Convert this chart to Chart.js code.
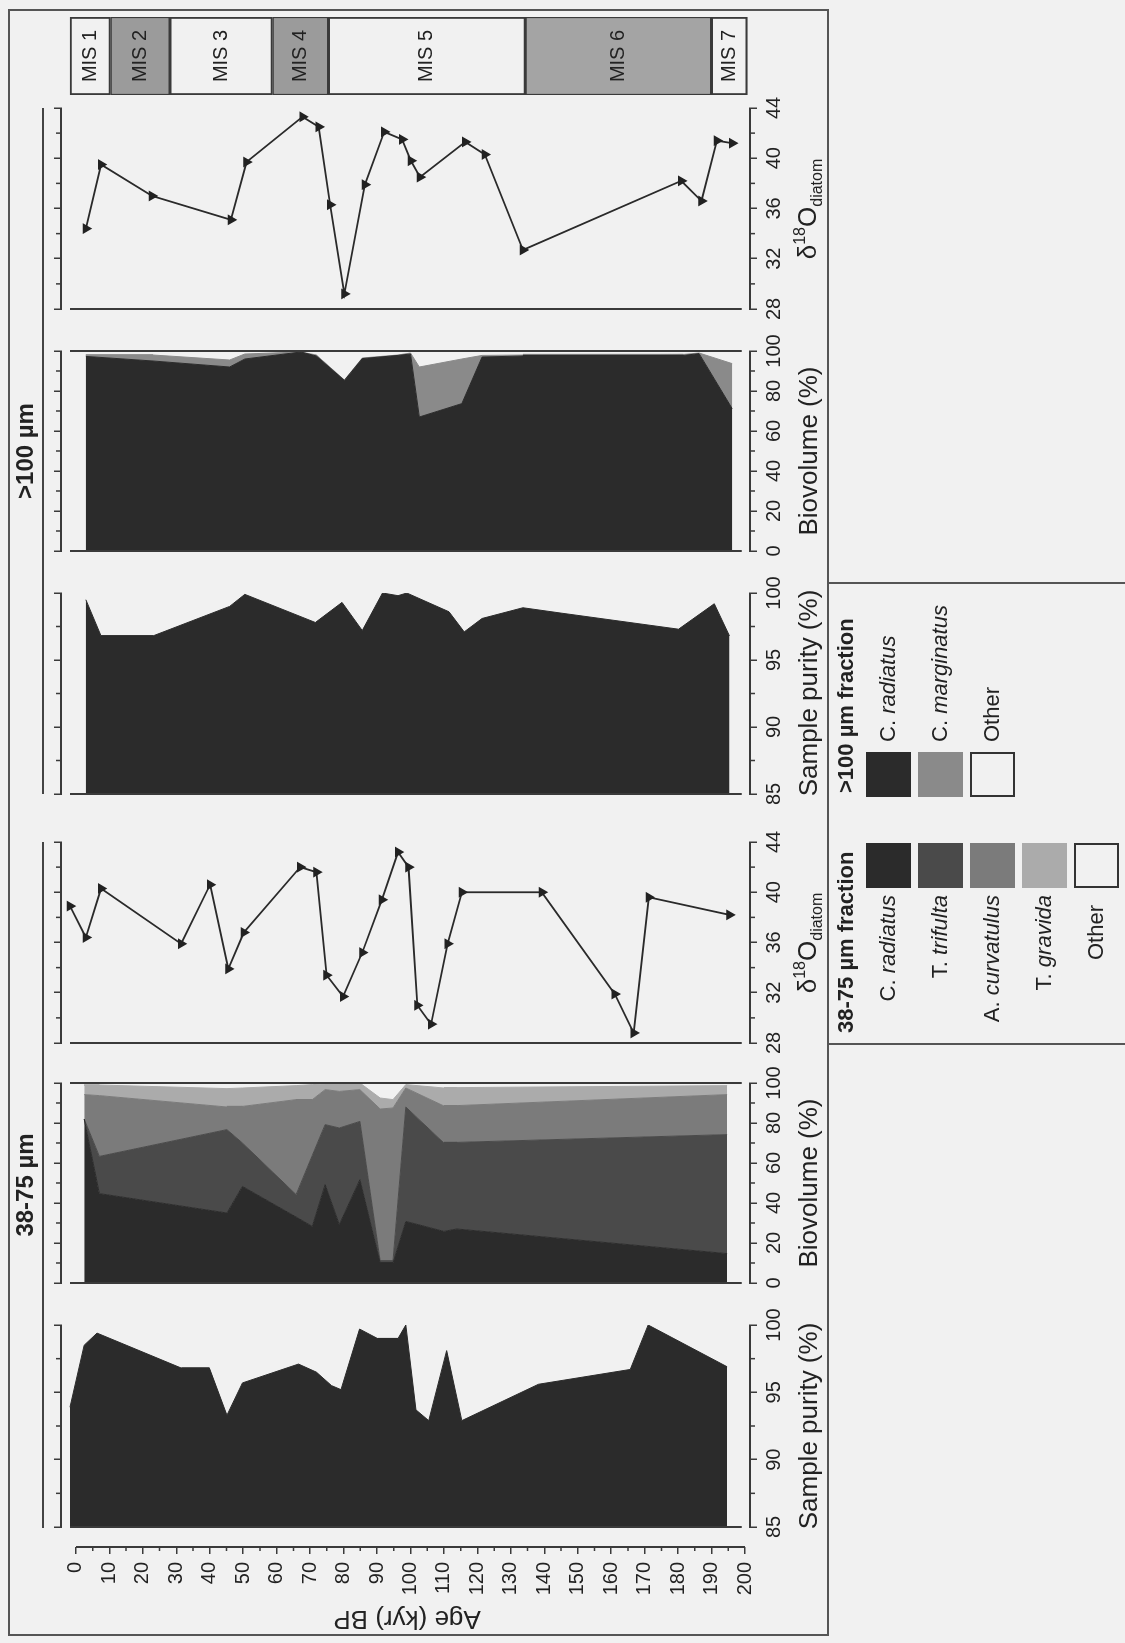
<!DOCTYPE html>
<html><head><meta charset="utf-8">
<script src="https://cdn.jsdelivr.net/npm/chart.js@4.4.0/dist/chart.umd.min.js"></script>
<style>
html,body{margin:0;padding:0;background:#f1f1f1;}
body{width:1125px;height:1643px;overflow:hidden;position:relative;font-family:"Liberation Sans",Arial,sans-serif;color:#222;}
#fig{position:absolute;left:0;top:0;width:1643px;height:1125px;transform-origin:0 0;transform:translate(0px,1643px) rotate(-90deg);}
#fig canvas{position:absolute;}
.t{position:absolute;white-space:nowrap;line-height:1;}
.c{transform:translate(-50%,-50%);}
.box{position:absolute;box-sizing:border-box;}
.sw{position:absolute;width:45px;height:45px;box-sizing:border-box;}
.lab{position:absolute;white-space:nowrap;font-size:22px;line-height:1;transform:translateY(-50%);}
</style></head>
<body><div id="fig"></div>
<script>
// ---------------- data ----------------
const ageTickLabels = [0,10,20,30,40,50,60,70,80,90,100,110,120,130,140,150,160,170,180,190,200];

// 38-75 um fraction: sample purity (%)
const purity38Age = [0, 4.2, 8.0, 33.0, 41.3, 46.5, 51.1, 67.7, 73.0, 77.5, 80.3, 85.8, 91.1, 97.2, 99.5, 102.5, 106.3, 111.6, 116.1, 138.8, 166.0, 171.3, 194.7];
const purity38    = [93.9, 98.5, 99.4, 96.8, 96.8, 93.3, 95.7, 97.1, 96.5, 95.5, 95.2, 99.7, 99.0, 99.0, 100, 93.7, 92.9, 98.1, 92.9, 95.6, 96.7, 100, 96.9];

// 38-75 um fraction: biovolume (%) per taxon
const bio38Age        = [4.2, 8.7, 46.5, 51.1, 67.0, 71.8, 75.6, 79.8, 85.9, 91.9, 95.7, 99.5, 110.8, 114.6, 194.7];
const bio38Radiatus   = [82, 44.7, 35, 48.3, 33, 28.3, 49.2, 29.2, 51.7, 10, 10, 30.8, 25.8, 27, 14.7];
const bio38Trifulta   = [0, 18.6, 41.7, 21.7, 11.2, 35.5, 30, 48.3, 29.1, 1, 1, 57.2, 44.2, 43.3, 59.5];
const bio38Curvatulus = [12.2, 30.4, 11.3, 18.3, 47.5, 27.9, 17.5, 18.3, 15.9, 76, 76.5, 9.5, 18.5, 18.4, 20];
const bio38Gravida    = [4.8, 5.3, 9.2, 9.2, 7, 7.5, 2.8, 3.7, 3.3, 5.5, 4.2, 1.7, 9, 9, 4.5];

// 38-75 um fraction: d18O diatom
const d18O38Age = [0, 4.7, 9.2, 32.9, 41.5, 46.9, 51.5, 68.2, 73.0, 76.0, 80.9, 86.6, 92.4, 97.2, 100.3, 102.9, 107.0, 111.9, 116.1, 139.8, 161.4, 167.0, 171.5, 195.4];
const d18O38    = [38.9, 36.4, 40.3, 35.9, 40.6, 33.9, 36.8, 42.0, 41.6, 33.4, 31.7, 35.2, 39.4, 43.2, 42.0, 31.0, 29.5, 35.9, 40.0, 40.0, 31.9, 28.8, 39.6, 38.2];

// >100 um fraction: sample purity (%)
const purity100Age = [4.7, 9.2, 24.6, 47.3, 51.8, 72.7, 80.6, 86.6, 92.6, 97.2, 99.8, 112.3, 116.8, 122.1, 134.2, 145.5, 180.3, 190.9, 195.4];
const purity100    = [99.5, 96.8, 96.8, 99.0, 99.9, 97.8, 99.3, 97.2, 100, 99.8, 100, 98.6, 97.1, 98.1, 98.9, 98.5, 97.3, 99.2, 96.8];

// >100 um fraction: biovolume (%) per taxon
const bio100Age        = [4.7, 24.6, 47.3, 51.8, 68.4, 73.0, 81.3, 86.6, 97.2, 100.9, 103.5, 116.1, 122.1, 134.2, 181.8, 186.4, 196.2];
const bio100Radiatus   = [97.3, 95, 92, 96, 99.5, 97.5, 85.3, 96.2, 97.8, 98.5, 67, 73.7, 97, 97.5, 97.8, 98.7, 71.2];
const bio100Marginatus = [0.7, 3, 3.5, 2.5, 0, 0.5, 0.2, 0.3, 0.2, 0.5, 25, 22.3, 0.8, 0.5, 0.5, 0.3, 22.5];

// >100 um fraction: d18O diatom
const d18O100Age = [4.7, 9.2, 24.3, 47.7, 52.3, 68.9, 73.7, 77.1, 81.3, 87.4, 93.1, 98.4, 101.0, 103.7, 117.1, 122.9, 134.2, 181.1, 187.1, 191.7, 196.2];
const d18O100    = [34.4, 39.5, 37.0, 35.1, 39.7, 43.3, 42.5, 36.3, 29.2, 37.9, 42.1, 41.5, 39.8, 38.5, 41.3, 40.3, 32.7, 38.2, 36.6, 41.4, 41.2];

// Marine isotope stages (kyr BP)
const misLabels = ['MIS 1','MIS 2','MIS 3','MIS 4','MIS 5','MIS 6','MIS 7'];
const misStart  = [0, 12, 29.5, 60, 76.5, 135, 190];
const misEnd    = [12, 29.5, 60, 76.5, 135, 190, 200.7];

// ---------------- layout / style ----------------
Chart.defaults.font.family = '"Liberation Sans", Arial, sans-serif';
Chart.defaults.color = '#222';
const AGE_MIN = -2.6667, AGE_MAX = 201.48;
const AREA_TOP = 61, AREA_BOTTOM = 750, TOP_H = 14, BOT_H = 50, PADX = 40;
const AXC = '#3a3a3a';
const C_RAD = '#2b2b2b', C_TRI = '#4a4a4a', C_CUR = '#7b7b7b', C_GRA = '#ababab', C_MAR = '#8a8a8a';
const fig = document.getElementById('fig');

function makeCanvas(left, top, w, h) {
  const c = document.createElement('canvas');
  c.width = w; c.height = h;
  c.style.left = left + 'px'; c.style.top = top + 'px';
  c.style.width = w + 'px'; c.style.height = h + 'px';
  fig.appendChild(c);
  return c.getContext('2d');
}
function pts(ages, vals) { return ages.map((a, i) => ({x: vals[i], y: a})); }
function cumulative(arrs) {
  let acc = arrs[0].map(() => 0);
  return arrs.map(a => { acc = acc.map((v, i) => v + a[i]); return acc.slice(); });
}

// minor ticks halfway between major ticks
const minorTicks = {
  id: 'minorTicks',
  afterDraw(chart, args, opts) {
    const ctx = chart.ctx;
    ctx.save();
    ctx.strokeStyle = AXC; ctx.lineWidth = 1.5;
    ctx.beginPath();
    Object.values(chart.scales).forEach(s => {
      if (!s.options.display || !s.ticks || s.ticks.length < 2) return;
      const len = opts.len || 4;
      for (let i = 0; i < s.ticks.length - 1; i++) {
        const p = s.getPixelForValue((s.ticks[i].value + s.ticks[i + 1].value) / 2);
        if (s.isHorizontal()) {
          const top = s.options.position === 'top';
          const y0 = top ? s.bottom : s.top;
          ctx.moveTo(p, y0); ctx.lineTo(p, y0 + (top ? -len : len));
        } else {
          ctx.moveTo(s.right, p); ctx.lineTo(s.right - len, p);
        }
      }
    });
    ctx.stroke(); ctx.restore();
  }
};
// straight reference lines (axis baselines) drawn in data units
const refLines = {
  id: 'refLines',
  afterDatasetsDraw(chart, args, opts) {
    const ctx = chart.ctx;
    (opts.lines || []).forEach(l => {
      ctx.save(); ctx.strokeStyle = AXC; ctx.lineWidth = l.w || 2;
      ctx.beginPath();
      const x = l.atPx !== undefined ? l.atPx(chart) : chart.scales.x.getPixelForValue(l.at);
      ctx.moveTo(x, chart.scales.y.getPixelForValue(l.from));
      ctx.lineTo(x, chart.scales.y.getPixelForValue(l.to));
      ctx.stroke(); ctx.restore();
    });
  }
};

function valueAxis(pos, vmin, vmax, step, showLabels) {
  return {
    type: 'linear', position: pos, axis: 'x', min: vmin, max: vmax,
    ticks: {stepSize: step, display: showLabels, font: {size: 20}, color: '#222', padding: 5, maxRotation: 0, autoSkip: false, includeBounds: false},
    grid: {drawOnChartArea: false, drawTicks: true, tickLength: 7, color: AXC, lineWidth: 1.5},
    border: {display: true, color: AXC, width: 2},
    afterFit(s) { s.height = pos === 'top' ? TOP_H : BOT_H; s.paddingLeft = 0; s.paddingRight = 0; }
  };
}

function panel(x0L, x0R, vmin, vmax, step, datasets, lines) {
  const ctx = makeCanvas(x0L - PADX, AREA_TOP - TOP_H, x0R - x0L + 2 * PADX, TOP_H + (AREA_BOTTOM - AREA_TOP) + BOT_H);
  return new Chart(ctx, {
    type: 'line',
    data: {datasets},
    options: {
      indexAxis: 'y', responsive: false, animation: false, devicePixelRatio: 1,
      layout: {padding: {left: PADX, right: PADX, top: 0, bottom: 0}},
      elements: {line: {tension: 0}},
      plugins: {legend: {display: false}, tooltip: {enabled: false}, minorTicks: {len: 5}, refLines: {lines}},
      scales: {
        y: {type: 'linear', reverse: true, min: AGE_MIN, max: AGE_MAX, display: false},
        x: valueAxis('bottom', vmin, vmax, step, true),
        x2: valueAxis('top', vmin, vmax, step, false)
      }
    },
    plugins: [minorTicks, refLines]
  });
}
function area(ages, vals, color, fill) {
  return {data: pts(ages, vals), backgroundColor: color, borderColor: color, borderWidth: 1, pointRadius: 0, fill};
}
function isoLine(ages, vals) {
  return {data: pts(ages, vals), borderColor: '#2a2a2a', borderWidth: 1.8, fill: false,
    pointStyle: 'triangle', rotation: 180, pointRadius: 4.5, pointBackgroundColor: '#222', pointBorderColor: '#222'};
}
const base = v => ({at: v, from: 0, to: 199, w: 2});

// ---- age axis ----
new Chart(makeCanvas(0, AREA_TOP - TOP_H, 110, TOP_H + (AREA_BOTTOM - AREA_TOP) + BOT_H), {
  type: 'line', data: {datasets: []},
  options: {
    responsive: false, animation: false, devicePixelRatio: 1,
    layout: {padding: {top: TOP_H, bottom: BOT_H, left: 0, right: 0}},
    plugins: {legend: {display: false}, tooltip: {enabled: false}, minorTicks: {len: 4},
      refLines: {lines: [{atPx: c => c.scales.y.right, from: ageTickLabels[0], to: ageTickLabels[ageTickLabels.length - 1], w: 2}]}},
    scales: {
      x: {type: 'linear', display: false},
      y: {type: 'linear', reverse: true, min: AGE_MIN, max: AGE_MAX, position: 'left',
        afterBuildTicks(s) { s.ticks = ageTickLabels.map(v => ({value: v})); },
        ticks: {font: {size: 20}, color: '#222', padding: 8, autoSkip: false},
        grid: {drawOnChartArea: false, tickLength: 7, color: AXC, lineWidth: 1.5},
        border: {display: false},
        afterFit(s) { s.width = 96; }
      }
    }
  },
  plugins: [minorTicks, refLines]
});

// ---- 38-75 um panels ----
panel(116, 318, 85, 100, 5, [area(purity38Age, purity38, C_RAD, {value: 85})], [base(85)]);
const cum38 = cumulative([bio38Radiatus, bio38Trifulta, bio38Curvatulus, bio38Gravida]);
panel(360, 560, 0, 100, 20, [
  area(bio38Age, cum38[0], C_RAD, {value: 0}),
  area(bio38Age, cum38[1], C_TRI, '-1'),
  area(bio38Age, cum38[2], C_CUR, '-1'),
  area(bio38Age, cum38[3], C_GRA, '-1')
], [base(0), base(100)]);
panel(600, 801, 28, 44, 4, [isoLine(d18O38Age, d18O38)], [base(28)]);

// ---- >100 um panels ----
panel(849, 1050, 85, 100, 5, [area(purity100Age, purity100, C_RAD, {value: 85})], [base(85)]);
const cum100 = cumulative([bio100Radiatus, bio100Marginatus]);
panel(1092, 1292, 0, 100, 20, [
  area(bio100Age, cum100[0], C_RAD, {value: 0}),
  area(bio100Age, cum100[1], C_MAR, '-1')
], [base(0), base(100)]);
panel(1334, 1535, 28, 44, 4, [isoLine(d18O100Age, d18O100)], [base(28)]);

// ---- MIS column ----
const misLabelPlugin = {
  id: 'misText',
  afterDatasetsDraw(chart) {
    const ctx = chart.ctx;
    ctx.save(); ctx.fillStyle = '#222'; ctx.font = '20px "Liberation Sans", Arial, sans-serif';
    ctx.textAlign = 'center'; ctx.textBaseline = 'middle';
    chart.data.datasets.forEach((ds, i) => {
      const el = chart.getDatasetMeta(i).data[0];
      ctx.fillText(ds.label, el.x, (el.y + el.base) / 2);
    });
    ctx.restore();
  }
};
const misColors = ['rgba(0,0,0,0)', '#9b9b9b', 'rgba(0,0,0,0)', '#9b9b9b', 'rgba(0,0,0,0)', '#a4a4a4', 'rgba(0,0,0,0)'];
new Chart(makeCanvas(1538, AREA_TOP - TOP_H, 98, TOP_H + (AREA_BOTTOM - AREA_TOP) + BOT_H), {
  type: 'bar',
  data: {labels: ['MIS'], datasets: misLabels.map((l, i) => ({
    label: l, data: [[misStart[i], misEnd[i]]], backgroundColor: misColors[i], borderColor: AXC,
    borderWidth: 1.5, borderSkipped: false, barPercentage: 1, categoryPercentage: 1, grouped: false}))},
  options: {
    responsive: false, animation: false, devicePixelRatio: 1,
    layout: {padding: {left: 10, right: 10, top: TOP_H, bottom: BOT_H}},
    plugins: {legend: {display: false}, tooltip: {enabled: false}},
    scales: {x: {display: false}, y: {type: 'linear', reverse: true, min: AGE_MIN, max: AGE_MAX, display: false}}
  },
  plugins: [misLabelPlugin]
});

// ---------------- HTML text & frames (figure coordinates before rotation) ----------------
function el(html, cls, style) {
  const d = document.createElement('div');
  d.className = cls; d.innerHTML = html; d.setAttribute('style', style); fig.appendChild(d); return d;
}
el('', 'box', 'left:7px;top:8px;width:1627px;height:821px;border:2px solid #555;');
el('', 'box', 'left:598px;top:827px;width:463px;height:320px;border-left:2px solid #555;border-right:2px solid #555;');
el('', 'box', 'left:115px;top:42px;width:686px;height:2px;background:#444;');
el('', 'box', 'left:849px;top:42px;width:686px;height:2px;background:#444;');
el('38-75 µm', 't c', 'left:458px;top:25px;font-size:24px;font-weight:bold;');
el('&gt;100 µm', 't c', 'left:1192px;top:25px;font-size:24px;font-weight:bold;');
el('Age (kyr) BP', 't', 'left:23px;top:407px;font-size:26px;transform:translate(-50%,-50%) rotate(-90deg);');
const sub18 = 'δ<sup style="font-size:16px;vertical-align:11px">18</sup>O<sub style="font-size:16px;vertical-align:-6px">diatom</sub>';
const titles = [
  [217, 'Sample purity (%)'], [460, 'Biovolume (%)'], [700, sub18],
  [950, 'Sample purity (%)'], [1192, 'Biovolume (%)'], [1434, sub18]
];
titles.forEach(([x, t]) => el(t, 't c', `left:${x}px;top:808px;font-size:26px;`));

// legend
el('38-75 µm fraction', 't', 'left:610px;top:846px;font-size:22px;font-weight:bold;transform:translateY(-50%);');
el('&gt;100 µm fraction', 't', 'left:850px;top:846px;font-size:22px;font-weight:bold;transform:translateY(-50%);');
const leg38 = [['C. <i>radiatus</i>', C_RAD], ['T. <i>trifulta</i>', C_TRI], ['A. <i>curvatulus</i>', C_CUR], ['T. <i>gravida</i>', C_GRA], ['Other', null]];
const leg100 = [['C. <i>radiatus</i>', C_RAD], ['C. <i>marginatus</i>', C_MAR], ['Other', null]];
leg38.forEach(([t, c], i) => {
  const y = 866 + i * 52;
  el('', 'sw', `left:755px;top:${y}px;` + (c ? `background:${c};` : 'border:2px solid #333;'));
  const rightEdge = c ? 748 : 738;
  el(t, 'lab', `right:${1643 - rightEdge}px;top:${y + 22}px;`);
});
leg100.forEach(([t, c], i) => {
  const y = 866 + i * 52;
  el('', 'sw', `left:846px;top:${y}px;` + (c ? `background:${c};` : 'border:2px solid #333;'));
  el(t, 'lab', `left:901px;top:${y + 22}px;`);
});
</script>
</body></html>
